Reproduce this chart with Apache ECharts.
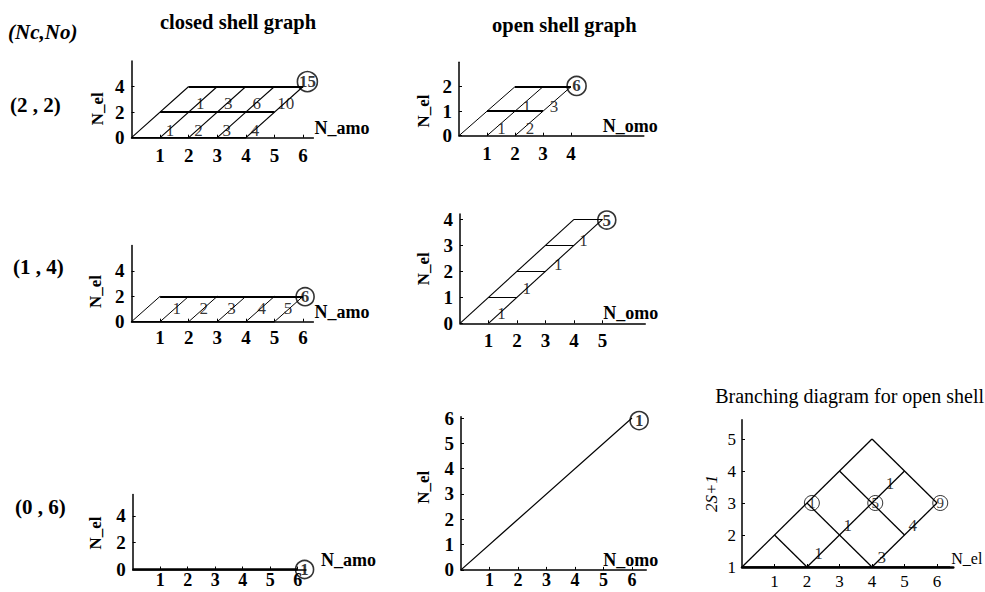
<!DOCTYPE html>
<html><head><meta charset="utf-8">
<script src="https://cdn.jsdelivr.net/npm/echarts@6/dist/echarts.min.js"></script>
<style>html,body{margin:0;padding:0;background:#fff}#c{width:985px;height:592px}</style>
</head><body><div id="c"></div>
<script>
// ================= DATA =================
// tick labels
const xTicksClosed = [1, 2, 3, 4, 5, 6];
const yTicksClosed = [0, 2, 4];
const xTicksOpen22 = [1, 2, 3, 4];
const yTicksOpen22 = [0, 1, 2];
const xTicksOpen14 = [1, 2, 3, 4, 5];
const yTicksOpen14 = [0, 1, 2, 3, 4];
const xTicksOpen06 = [1, 2, 3, 4, 5, 6];
const yTicksOpen06 = [0, 1, 2, 3, 4, 5, 6];
const xTicksBranch = [1, 2, 3, 4, 5, 6];
const yTicksBranch = [1, 2, 3, 4, 5];

// graph edges: [x1, y1, x2, y2]  (x = N_amo / N_omo / N_el, y = N_el / 2S+1)
const closed22Rows   = [[0,0,4,0],[1,2,5,2],[2,4,6,4]];
const closed22Slants = [[0,0,2,4],[1,0,3,4],[2,0,4,4],[3,0,5,4],[4,0,6,4]];
const closed22Labels = [[1.35,0.6,'1'],[2.34,0.6,'2'],[3.33,0.6,'3'],[4.32,0.6,'4'],
                        [2.4,2.7,'1'],[3.38,2.7,'3'],[4.38,2.7,'6'],[5.39,2.7,'10']];
const closed22Circle = [[6.15,4.38,'15']];

const open22Rows   = [[1,1,3,1],[2,2,4,2]];
const open22Slants = [[0,0,2,2],[1,0,3,2],[2,0,4,2]];
const open22Labels = [[1.52,0.3,'1'],[2.54,0.3,'2'],[2.42,1.2,'1'],[3.39,1.2,'3']];
const open22Circle = [[4.2,2.03,'6']];

const closed14Rows   = [[0,0,5,0],[1,2,6,2]];
const closed14Slants = [[0,0,1,2],[1,0,2,2],[2,0,3,2],[3,0,4,2],[4,0,5,2],[5,0,6,2]];
const closed14Labels = [[1.58,1.05,'1'],[2.53,1.05,'2'],[3.5,1.05,'3'],[4.55,1.05,'4'],[5.47,1.05,'5']];
const closed14Circle = [[6.07,1.97,'6']];

const open14Rows   = [[1,1,2,1],[2,2,3,2],[3,3,4,3],[4,4,5,4]];
const open14Slants = [[0,0,4,4],[1,0,5,4]];
const open14Labels = [[1.46,0.36,'1'],[2.34,1.35,'1'],[3.45,2.28,'1'],[4.33,3.2,'1']];
const open14Circle = [[5.15,3.97,'5']];

const closed06Rows   = [[0,0,6,0]];
const closed06Circle = [[6.25,0,'1']];

const open06Slants = [[0,0,6,6]];
const open06Circle = [[6.25,5.9,'1']];

const branchEdges  = [[0,1,4,5],[4,5,6,3],[1,2,2,1],[2,3,4,1],[3,4,5,2],[2,1,5,4],[4,1,6,3]];
const branchBase   = [[0,1,6.4,1]];
const branchLabels = [[2.35,1.42,'1'],[3.25,2.3,'1'],[4.55,3.6,'1'],[5.25,2.3,'4'],[4.3,1.3,'3']];
const branchCircle = [[2.15,3,'1'],[4.1,3,'5'],[6.1,3,'9']];

// ================= BUILD =================
const FONT = '"Liberation Serif", "DejaVu Serif", serif';
const grids = [
  {left:131.5, top:60.9,  width:181.9,  height:76.8},
  {left:459,   top:62.2,  width:184.8,  height:73.5},
  {left:131.5, top:245.5, width:181.9,  height:76.2},
  {left:460,   top:214.1, width:185.25, height:109.2},
  {left:132.7, top:494.5, width:173.25, height:75},
  {left:461,   top:416.8, width:185.25, height:153.1},
  {left:742,   top:419.8, width:211.25, height:147.2}
].map(g => Object.assign({containLabel:false, outerBoundsMode:'none', show:false}, g));

function xAx(gi, max, ticks, name, gap, opt) {
  opt = opt || {};
  const bold = opt.normal ? 'normal' : 'bold';
  return {
    type:'value', gridIndex:gi, min:0, max:max, interval:1,
    name:name, nameLocation:'end', nameGap:gap,
    nameTextStyle:{fontFamily:FONT, fontWeight:bold, fontSize:opt.nfs || 18, color:'#000', verticalAlign:'bottom', align:'left', padding:[0,0,1,0]},
    axisLine:{show:true, onZero:false, lineStyle:{color:'#000', width:opt.lineW || 1.5}},
    axisTick:{show:true, inside:true, length:3, customValues:ticks, lineStyle:{color:'#000', width:1}},
    axisLabel:{show:true, customValues:ticks, margin:opt.margin || 8, fontFamily:FONT, fontWeight:bold,
      fontSize:opt.fs || 19, lineHeight:opt.lh || 19, color:'#000',
      formatter:v => ticks.indexOf(v) >= 0 ? String(v) : ''},
    splitLine:{show:false}
  };
}
function yAx(gi, min, max, interval, ticks, name, gap, shift, italic) {
  // shift > 0 moves name down, < 0 moves it up
  const pad = shift >= 0 ? [0, 2*shift, 0, 0] : [0, 0, 0, -2*shift];
  return {
    type:'value', gridIndex:gi, min:min, max:max, interval:interval,
    name:name, nameLocation:'middle', nameRotate:90, nameGap:gap,
    nameTextStyle:{fontFamily:FONT, fontWeight: italic ? 'normal' : 'bold', fontStyle: italic ? 'italic' : 'normal',
      fontSize:17, color:'#000', padding:pad},
    axisLine:{show:true, onZero:false, lineStyle:{color:'#000', width:1.5}},
    axisTick:{show:true, inside:true, length:3, customValues:ticks, lineStyle:{color:'#000', width:1}},
    axisLabel:{show:true, customValues:ticks, margin: italic ? 6 : 7, fontFamily:FONT, fontWeight: italic ? 'normal' : 'bold',
      fontSize: italic ? 17 : 19, color:'#000',
      formatter:v => ticks.indexOf(v) >= 0 ? String(v) : ''},
    splitLine:{show:false}
  };
}

const xAxes = [
  xAx(0, 6.36, xTicksClosed, 'N_amo', 1),
  xAx(1, 6.6,  xTicksOpen22, 'N_omo', -41),
  xAx(2, 6.36, xTicksClosed, 'N_amo', 1, {margin:6}),
  xAx(3, 6.5,  xTicksOpen14, 'N_omo', -42),
  xAx(4, 6.3,  xTicksClosed, 'N_amo', 15, {margin:2, fs:18, lh:16}),
  xAx(5, 6.5,  xTicksOpen06, 'N_omo', -43, {margin:2, fs:18, lh:16}),
  xAx(6, 6.5,  xTicksBranch, 'N_el', -2, {lineW:2.5, normal:true, fs:17, lh:17, margin:6, nfs:16})
];
const yAxes = [
  yAx(0, 0, 6, 2, yTicksClosed, 'N_el', 26, 9.5),
  yAx(1, 0, 3, 1, yTicksOpen22, 'N_el', 27, 12),
  yAx(2, 0, 6, 2, yTicksClosed, 'N_el', 28, 8),
  yAx(3, 0, 4.2, 1, yTicksOpen14, 'N_el', 28, 0),
  yAx(4, 0, 5.6, 2, yTicksClosed, 'N_el', 29, 1),
  yAx(5, 0, 6.05, 1, yTicksOpen06, 'N_el', 29, -6),
  yAx(6, 1, 5.6, 1, yTicksBranch, '2S+1', 22, 0, true)
];

const series = [];
function edges(gi, list, width) {
  series.push({
    type:'lines', coordinateSystem:'cartesian2d', xAxisIndex:gi, yAxisIndex:gi,
    silent:true, animation:false, symbol:['none','none'],
    lineStyle:{color:'#000', width:width, opacity:1, curveness:0},
    data:list.map(e => ({coords:[[e[0], e[1]], [e[2], e[3]]]}))
  });
}
function labels(gi, list, size) {
  series.push({
    type:'scatter', xAxisIndex:gi, yAxisIndex:gi, silent:true, animation:false,
    symbolSize:1, itemStyle:{color:'rgba(0,0,0,0)'},
    label:{show:true, position:'inside', formatter:p => p.value[2],
      fontFamily:FONT, fontSize:size || 17, color:'#000'},
    data:list.map(l => [l[0], l[1], l[2]]), z:5
  });
}
function circles(gi, list, size, bold, bw) {
  series.push({
    type:'scatter', xAxisIndex:gi, yAxisIndex:gi, silent:true, animation:false,
    symbol:'circle', symbolSize:size,
    itemStyle:{color:'rgba(255,255,255,0)', borderColor:'#000', borderWidth:bw || 1.6},
    label:{show:true, position:'inside', formatter:p => p.value[2],
      fontFamily:FONT, fontSize:bold ? 17 : 15, fontWeight: bold ? 'bold' : 'normal', color:'#000'},
    data:list.map(l => [l[0], l[1], l[2]]), z:6
  });
}

edges(0, closed22Rows, 1.8); edges(0, closed22Slants, 1.1); labels(0, closed22Labels); circles(0, closed22Circle, 20, true);
edges(1, open22Rows, 1.8);   edges(1, open22Slants, 1.0);   labels(1, open22Labels);   circles(1, open22Circle, 19, true);
edges(2, closed14Rows, 1.8); edges(2, closed14Slants, 1.0); labels(2, closed14Labels); circles(2, closed14Circle, 18, true);
edges(3, open14Rows, 1.1);   edges(3, open14Slants, 1.1);   labels(3, open14Labels);   circles(3, open14Circle, 18, true);
edges(4, closed06Rows, 2.5); circles(4, closed06Circle, 18, true);
edges(5, open06Slants, 1.2); circles(5, open06Circle, 18, true);
edges(6, branchEdges, 1.3);  edges(6, branchBase, 2.5);     labels(6, branchLabels);   circles(6, branchCircle, 15, false, 1);

const txt = (x, y, text, font, align) => ({type:'text', x:x, y:y, silent:true,
  style:{text:text, font:font, fill:'#000', textAlign:align || 'left', textVerticalAlign:'middle'}});
const graphic = [
  txt(8, 32, '(Nc,No)', 'italic bold 21px ' + FONT),
  txt(160, 22, 'closed shell graph', 'bold 20.5px ' + FONT),
  txt(492, 25, 'open shell graph', 'bold 20.5px ' + FONT),
  txt(10, 105, '(2 , 2)', 'bold 21px ' + FONT),
  txt(13, 267, '(1 , 4)', 'bold 21px ' + FONT),
  txt(15, 507, '(0 , 6)', 'bold 21px ' + FONT),
  txt(984, 396, 'Branching diagram for open shell', '20px ' + FONT, 'right')
];

const chart = echarts.init(document.getElementById('c'), null, {renderer:'svg'});
chart.setOption({
  animation:false, backgroundColor:'#fff',
  grid:grids, xAxis:xAxes, yAxis:yAxes, series:series, graphic:graphic
});
</script></body></html>
